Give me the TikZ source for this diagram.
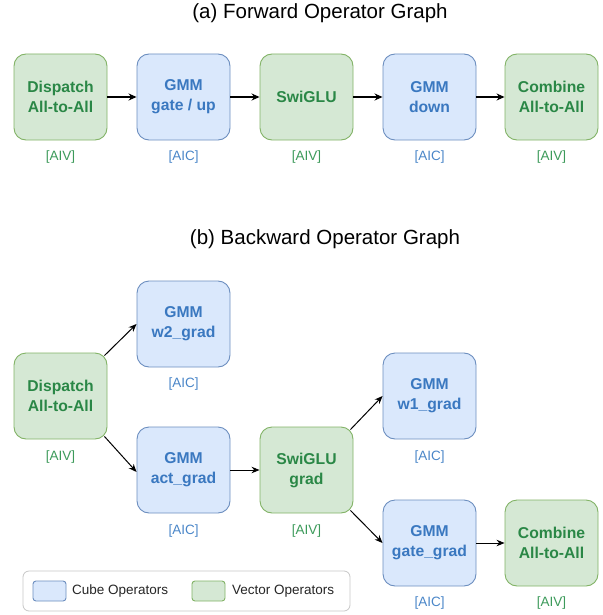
\documentclass[tikz,border=0pt]{standalone}
\usepackage{fontspec}
\setmainfont{Liberation Sans}
\usetikzlibrary{arrows.meta,positioning}

\definecolor{vecfill}{HTML}{D5E8D4}
\definecolor{vecdraw}{HTML}{82B366}
\definecolor{vectext}{HTML}{2A8746}
\definecolor{veclabel}{HTML}{3C9A5A}
\definecolor{cubefill}{HTML}{DAE8FC}
\definecolor{cubedraw}{HTML}{6C8EBF}
\definecolor{cubetext}{HTML}{3A78C0}
\definecolor{cubelabel}{HTML}{4A86C8}

\tikzset{
  opbox/.style={rounded corners=12pt, minimum width=93pt, minimum height=86pt,
    line width=0.9pt, align=center, inner sep=0pt,
    font=\fontsize{15.7}{20}\selectfont\bfseries},
  vecop/.style={opbox, fill=vecfill, draw=vecdraw, text=vectext},
  cubeop/.style={opbox, fill=cubefill, draw=cubedraw, text=cubetext},
  unitlabel/.style={font=\fontsize{13.5}{16}\selectfont, inner sep=0pt},
  veclab/.style={unitlabel, text=veclabel},
  cubelab/.style={unitlabel, text=cubelabel},
  graphtitle/.style={font=\fontsize{20.5}{23}\selectfont, inner sep=0pt},
  fwdarrow/.style={-{Stealth[length=8pt,width=7pt]}, line width=1.6pt},
  bwdarrow/.style={-{Stealth[length=8pt,width=6.5pt]}, line width=1pt},
  legendframe/.style={draw=black!22, rounded corners=6pt, line width=0.8pt, fill=white},
  swatch/.style={rounded corners=3pt, line width=0.9pt, minimum width=33pt, minimum height=20pt, inner sep=0pt},
  legendtext/.style={font=\fontsize{13.5}{16}\selectfont, anchor=west, inner sep=0pt, text=black!85}
}

\begin{document}
\begin{tikzpicture}[x=1pt, y=-1pt]
  \useasboundingbox (0,0) rectangle (602,615);

  % ---------- forward graph ----------
  \node[graphtitle] (ftitle) at (320,13) {(a) Forward Operator Graph};

  \node[vecop]  (fdisp) at (60.5,97)  {Dispatch\\All-to-All};
  \node[cubeop] (fgate) at (183.5,97) {GMM\\gate / up};
  \node[vecop]  (fswi)  at (306.5,97) {SwiGLU};
  \node[cubeop] (fdown) at (429.5,97) {GMM\\down};
  \node[vecop]  (fcomb) at (551.5,97) {Combine\\All-to-All};

  \node[veclab]  (lfdisp) at (60.5,157)  {[AIV]};
  \node[cubelab] (lfgate) at (183.5,157) {[AIC]};
  \node[veclab]  (lfswi)  at (306.5,157) {[AIV]};
  \node[cubelab] (lfdown) at (429.5,157) {[AIC]};
  \node[veclab]  (lfcomb) at (551.5,157) {[AIV]};

  \draw[fwdarrow] (fdisp) -- (fgate);
  \draw[fwdarrow] (fgate) -- (fswi);
  \draw[fwdarrow] (fswi)  -- (fdown);
  \draw[fwdarrow] (fdown) -- (fcomb);

  % ---------- backward graph ----------
  \node[graphtitle] (btitle) at (325,239) {(b) Backward Operator Graph};

  \node[vecop]  (bdisp) at (60.5,396)  {Dispatch\\All-to-All};
  \node[cubeop] (bw2)   at (183.5,324) {GMM\\w2\_grad};
  \node[cubeop] (bact)  at (183.5,470) {GMM\\act\_grad};
  \node[vecop]  (bswi)  at (306.5,470) {SwiGLU\\grad};
  \node[cubeop] (bw1)   at (429.5,396) {GMM\\w1\_grad};
  \node[cubeop] (bgate) at (429.5,543) {GMM\\gate\_grad};
  \node[vecop]  (bcomb) at (551.5,543) {Combine\\All-to-All};

  \node[veclab]  (lbdisp) at (60.5,457)  {[AIV]};
  \node[cubelab] (lbw2)   at (183.5,384) {[AIC]};
  \node[cubelab] (lbact)  at (183.5,531) {[AIC]};
  \node[veclab]  (lbswi)  at (306.5,531) {[AIV]};
  \node[cubelab] (lbw1)   at (429.5,457) {[AIC]};
  \node[cubelab] (lbgate) at (429.5,603) {[AIC]};
  \node[veclab]  (lbcomb) at (551.5,603) {[AIV]};

  \draw[bwdarrow] ([shift={(-3,3)}]bdisp.north east) -- (bw2.west);
  \draw[bwdarrow] ([shift={(-3,-3)}]bdisp.south east) -- ([yshift=-2]bact.west);
  \draw[bwdarrow] (bact) -- (bswi);
  \draw[bwdarrow] ([shift={(-3,3)}]bswi.north east) -- (bw1.west);
  \draw[bwdarrow] ([shift={(-3,-3)}]bswi.south east) -- (bgate.west);
  \draw[bwdarrow] (bgate) -- (bcomb);

  % ---------- legend ----------
  \node[legendframe, minimum width=327pt, minimum height=40pt] (legend) at (186.5,591) {};
  \node[swatch, fill=cubefill, draw=cubedraw] (cubesw) at (49.5,591) {};
  \node[legendtext] (cubetxt) at (72,591) {Cube Operators};
  \node[swatch, fill=vecfill, draw=vecdraw] (vecsw) at (208.5,591) {};
  \node[legendtext] (vectxt) at (232,591) {Vector Operators};
\end{tikzpicture}
\end{document}
